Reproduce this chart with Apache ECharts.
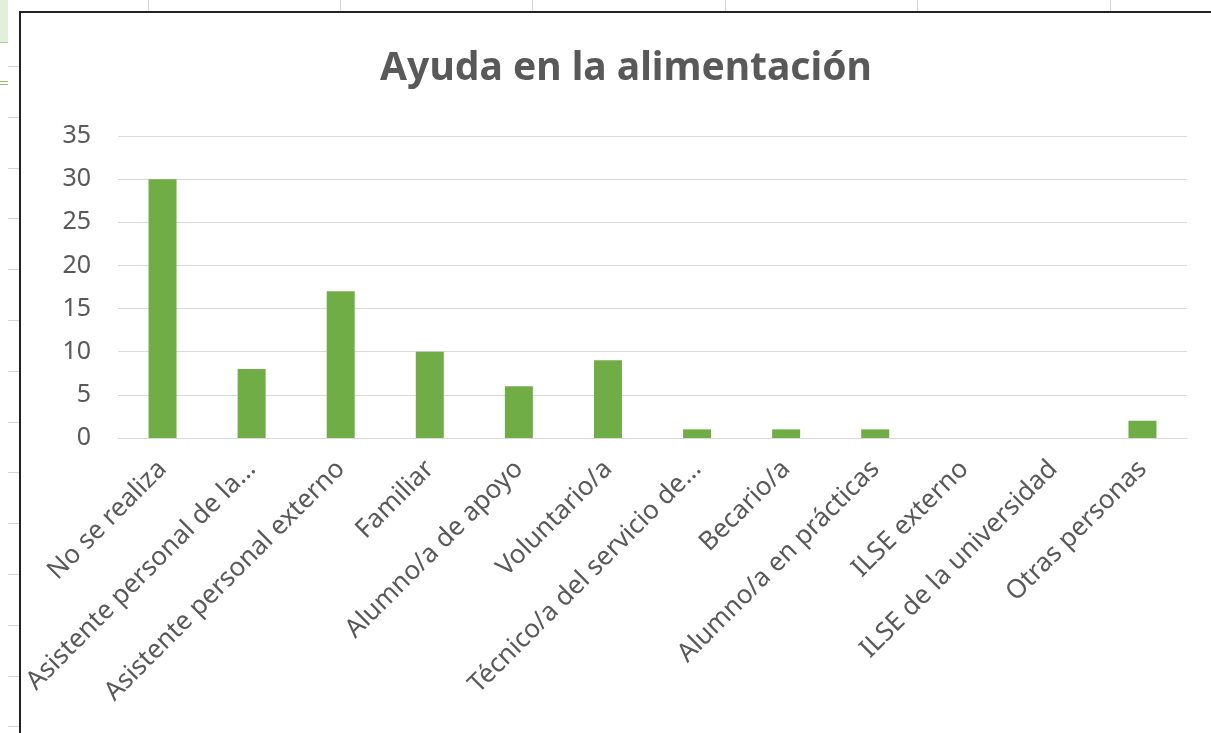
<!DOCTYPE html>
<html>
<head>
<meta charset="utf-8">
<script src="https://cdn.jsdelivr.net/npm/echarts@6/dist/echarts.min.js"></script>
<style>
  body { margin: 0; background: #fff; overflow: hidden; }
  #sheet { position: absolute; left: 0; top: 0; width: 1211px; height: 733px; }
  .vl { position: absolute; top: 0; width: 1px; height: 12px; background: #d4d4d4; }
  .hl { position: absolute; left: 8px; width: 12px; height: 1px; background: #d4d4d4; }
  #frame { position: absolute; left: 19px; top: 11px; width: 1300px; height: 800px;
           border-left: 2px solid #222; border-top: 2px solid #222; background: #fff; }
  #main { position: absolute; left: 0; top: 0; width: 1211px; height: 733px; }
</style>
</head>
<body>
<div id="sheet"></div>
<div id="frame"></div>
<div id="main"></div>
<script>
// spreadsheet cell lines peeking out behind the chart
var sheet = document.getElementById('sheet')
;[148, 340, 532, 725, 917, 1110].forEach(function (x) {
  var d = document.createElement('div'); d.className = 'vl'; d.style.left = x + 'px'; sheet.appendChild(d)
})
for (var y = 66; y < 733; y += 50.8) {
  var d = document.createElement('div'); d.className = 'hl'; d.style.top = Math.round(y) + 'px'; sheet.appendChild(d)
}
var g = document.createElement('div')
g.style.cssText = 'position:absolute;left:0;top:0;width:8px;height:42px;background:#e2efda;border-bottom:1px solid #a9d08e'
sheet.appendChild(g)
var g2 = document.createElement('div')
g2.style.cssText = 'position:absolute;left:0;top:81px;width:8px;height:2px;border-top:1px solid #8fbf6f;border-bottom:1px solid #8fbf6f'
sheet.appendChild(g2)

var categorias = ['No se realiza', 'Asistente personal de la…', 'Asistente personal externo', 'Familiar',
  'Alumno/a de apoyo', 'Voluntario/a', 'Técnico/a del servicio de…', 'Becario/a',
  'Alumno/a en prácticas', 'ILSE externo', 'ILSE de la universidad', 'Otras personas']
var valores = [30, 8, 17, 10, 6, 9, 1, 1, 1, 0, 0, 2]

var myChart = echarts.init(document.getElementById('main'))
var option = {
  backgroundColor: 'transparent',
  textStyle: { fontFamily: 'Noto Sans' },
  title: {
    text: 'Ayuda en la alimentación',
    left: 621, top: 44, textAlign: 'center',
    textStyle: { fontFamily: 'Noto Sans', fontSize: 39, fontWeight: 'bold', color: '#595959' }
  },
  grid: { left: 118, right: 24, top: 136, bottom: 295, containLabel: false },
  xAxis: {
    type: 'category',
    data: categorias,
    axisLine: { lineStyle: { color: '#d9d9d9', width: 1 } },
    axisTick: { show: false },
    axisLabel: { rotate: 45, interval: 0, margin: 27, fontSize: 26, color: '#595959', fontFamily: 'Noto Sans' }
  },
  yAxis: {
    type: 'value',
    min: 0, max: 35, interval: 5,
    axisLine: { show: false },
    axisTick: { show: false },
    splitLine: { lineStyle: { color: '#d9d9d9', width: 1 } },
    axisLabel: { fontSize: 25, color: '#595959', margin: 27, fontFamily: 'Noto Sans' }
  },
  series: [{
    type: 'bar',
    data: valores,
    barWidth: 28,
    itemStyle: { color: '#70ad47' },
    silent: true
  }]
}
myChart.setOption(option)
</script>
</body>
</html>
